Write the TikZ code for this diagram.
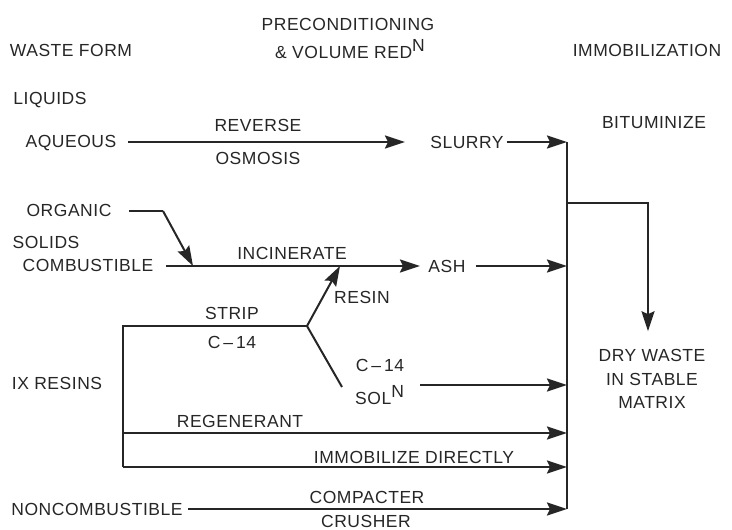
\documentclass[tikz,border=0pt]{standalone}
\usepackage{fontspec}
\setmainfont{Liberation Sans}[LetterSpace=3]
\usetikzlibrary{arrows.meta}
\begin{document}
\begin{tikzpicture}[x=1pt,y=-1pt,
  lbl/.style={inner sep=0pt,font=\fontsize{17.5}{19}\selectfont,text=black!85},
  ln/.style={line width=2pt,draw=black!85},
  arr/.style={ln,-{Stealth[length=20pt,width=13pt,inset=3pt]}}]
\useasboundingbox (0,0) rectangle (732,530);
% headers
\node[lbl] (wf) at (71,50) {WASTE FORM};
\node[lbl] (pre1) at (348,24) {PRECONDITIONING};
\node[lbl] (pre2) at (350,49) {\& VOLUME RED\raisebox{7pt}{N}};
\node[lbl] (imm) at (647,50) {IMMOBILIZATION};
% left labels
\node[lbl] (liq) at (50,100) {LIQUIDS};
\node[lbl] (aq) at (71,143) {AQUEOUS};
\node[lbl] (org) at (69,210) {ORGANIC};
\node[lbl] (sol) at (46,242) {SOLIDS};
\node[lbl] (comb) at (88,265) {COMBUSTIBLE};
\node[lbl] (ix) at (57,383) {IX RESINS};
\node[lbl] (nonc) at (97,509) {NONCOMBUSTIBLE};
% middle labels
\node[lbl] (rev) at (258,125) {REVERSE};
\node[lbl] (osm) at (258,158) {OSMOSIS};
\node[lbl] (slurry) at (467,142) {SLURRY};
\node[lbl] (inc) at (292,253) {INCINERATE};
\node[lbl] (ash) at (447,266) {ASH};
\node[lbl] (resin) at (362,297) {RESIN};
\node[lbl] (strip) at (232,313) {STRIP};
\node[lbl] (c14a) at (232,342) {C\,--\,14};
\node[lbl] (c14b) at (380,365) {C\,--\,14};
\node[lbl,anchor=west] (soln) at (355,395) {SOL\raisebox{7pt}{N}};
\node[lbl] (regen) at (240,421) {REGENERANT};
\node[lbl] (immd) at (414,457) {IMMOBILIZE DIRECTLY};
\node[lbl] (compa) at (367,497) {COMPACTER};
\node[lbl] (crush) at (366,521) {CRUSHER};
% right labels
\node[lbl] (bit) at (654,123) {BITUMINIZE};
\node[lbl,align=center,font=\fontsize{17.5}{23.5}\selectfont] (dry) at (652,379) {DRY WASTE\\IN STABLE\\MATRIX};
% coordinates
\coordinate (b1) at (567,142);
\coordinate (b2) at (567,203);
\coordinate (b3) at (567,266);
\coordinate (b4) at (567,385);
\coordinate (b5) at (567,433);
\coordinate (b6) at (567,467);
\coordinate (b7) at (567,509);
\coordinate (br) at (648,203);
\coordinate (o1) at (163,211);
\coordinate (incs) at (166,266);
\coordinate (incm) at (193,266);
\coordinate (rtip) at (340,266);
\coordinate (j) at (307,326);
\coordinate (dend) at (342,387);
\coordinate (l1) at (123,326);
\coordinate (l2) at (123,433);
\coordinate (l3) at (123,467);
\coordinate (solstart) at (420,385);
\coordinate (aqs) at (128,142);
\coordinate (aqe) at (405,142);
\coordinate (asht) at (420,266);
\coordinate (orgs) at (129,211);
\coordinate (ncs) at (188,509);
% connectors
\draw[ln] (b1) -- (b7);
\draw[arr] (aqs) -- (aqe);
\draw[arr] ([xshift=3pt]slurry.east) -- (b1);
\draw[arr] (b2) -- (br) -- ([yshift=18pt]dry.north -| br);
\draw[ln] (orgs) -- (o1);
\draw[arr] (o1) -- (incm);
\draw[arr] (incs) -- (asht);
\draw[arr] ([xshift=10pt]ash.east) -- (b3);
\draw[ln] (l3) -- (l1) -- (j);
\draw[arr] (j) -- (rtip);
\draw[ln] (j) -- (dend);
\draw[arr] (solstart) -- (b4);
\draw[arr] (l2) -- (b5);
\draw[arr] (l3) -- (b6);
\draw[arr] (ncs) -- (b7);
\end{tikzpicture}
\end{document}
